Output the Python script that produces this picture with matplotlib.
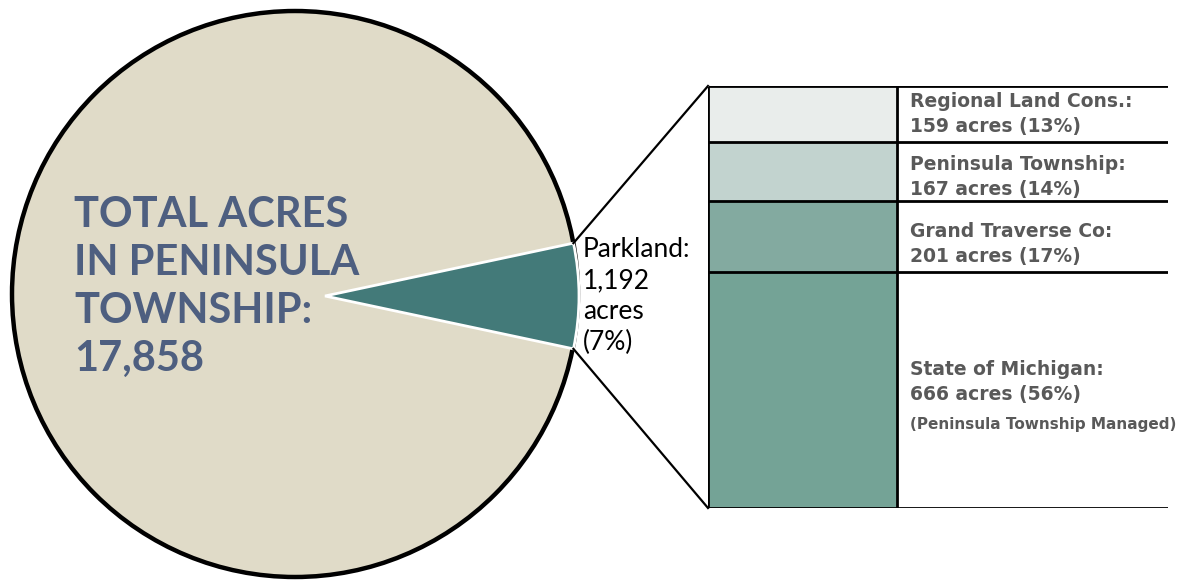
import numpy as np
import matplotlib; matplotlib.use("Agg")
import matplotlib.pyplot as plt
from matplotlib.patches import Circle, Wedge

# data
total_acres = 17858
park_acres = 1192
park_pct = 7
owners = ["Regional Land Cons.", "Peninsula Township", "Grand Traverse Co", "State of Michigan"]
owner_acres = [159, 167, 201, 666]
owner_pct = [13, 14, 17, 56]
owner_notes = ["", "", "", "(Peninsula Township Managed)"]
owner_colors = ["#E9EDEB", "#C2D3CF", "#83AAA0", "#74A396"]

W, H = 1188, 582
plt.rcParams["font.family"] = ["Lato", "DejaVu Sans"]
fig = plt.figure(figsize=(W/100, H/100), dpi=100)
ax = fig.add_axes([0, 0, 1, 1])
ax.set_xlim(0, W); ax.set_ylim(H, 0); ax.axis("off")

# pie: whole township + parkland slice
cx, cy, r = 295, 294, 283
ax.add_patch(Circle((cx, cy), r, facecolor="#E0DBC8", edgecolor="black", lw=3.2, zorder=1))
half = park_acres/total_acres*360/2
wx, wy, wr = 325, 296, 254
ax.add_patch(Wedge((wx, wy), wr, -half, half, facecolor="#437A79", edgecolor="white", lw=2, zorder=2))

title = ["TOTAL ACRES", "IN PENINSULA", "TOWNSHIP:", f"{total_acres:,}"]
for i, s in enumerate(title):
    ax.text(74, 227+48*i, s, fontsize=30, fontweight="bold", color="#4E5F80", va="baseline")
park = ["Parkland:", f"{park_acres:,}", "acres", f"({park_pct}%)"]
for i, s in enumerate(park):
    ax.text(583, 257+31*i, s, fontsize=19, color="black", va="baseline")

# stacked bar of parkland owners
bx0, bx1, by0, by1 = 708, 1168, 86, 508
bax = fig.add_axes([bx0/W, 1-by1/H, (bx1-bx0)/W, (by1-by0)/H])
tot = sum(owner_acres)
bottoms = np.concatenate([[0], np.cumsum(owner_acres[::-1])[:-1]])
bw = (897-bx0)/(bx1-bx0)
bax.bar(0, owner_acres[::-1], width=bw, bottom=bottoms, align="edge",
        color=owner_colors[::-1], edgecolor="none")
bax.hlines(np.append(np.cumsum(owner_acres[::-1]), 0), 0, 1, colors="black", lw=2)
bax.vlines([0, bw], 0, tot, colors="black", lw=2)
bax.set_xlim(0, 1); bax.set_ylim(0, tot); bax.axis("off")

# connectors from slice to bar
t = np.radians(half)
ax.plot([wx+wr*np.cos(t), bx0], [wy-wr*np.sin(t), by0], color="black", lw=1.6)
ax.plot([wx+wr*np.cos(t), bx0], [wy+wr*np.sin(t), by1], color="black", lw=1.6)

# owner labels
label_y = [107, 170, 237, 375]
for name, a, p, note, y in zip(owners, owner_acres, owner_pct, owner_notes, label_y):
    ax.text(910, y, f"{name}:", fontsize=13.5, fontweight="bold", family="DejaVu Sans",
            color="#595959", va="baseline")
    ax.text(910, y+25, f"{a} acres ({p}%)", fontsize=13.5, fontweight="bold", family="DejaVu Sans",
            color="#595959", va="baseline")
    if note:
        ax.text(910, y+54, note, fontsize=11, fontweight="bold", family="DejaVu Sans",
                color="#595959", va="baseline")

fig.savefig("out.png", dpi=100)
